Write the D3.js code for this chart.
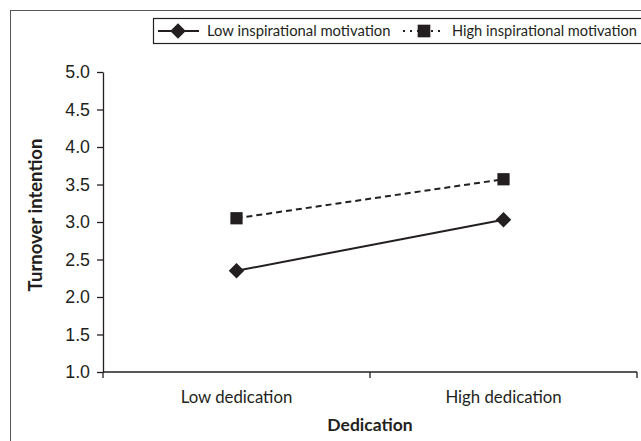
<!DOCTYPE html>
<html>
<head>
<meta charset="utf-8">
<script src="https://cdn.jsdelivr.net/npm/d3@7"></script>
<style>
  html, body { margin: 0; padding: 0; background: #fff; }
  svg { display: block; font-family: Lato, "Open Sans", sans-serif; }
</style>
</head>
<body>
<svg id="chart" width="641" height="441"></svg>
<script>
const categories = ["Low dedication", "High dedication"];
const seriesNames = ["Low inspirational motivation", "High inspirational motivation"];
const lowMotivation = [2.35, 3.03];
const highMotivation = [3.05, 3.57];
const yTicks = [1.0, 1.5, 2.0, 2.5, 3.0, 3.5, 4.0, 4.5, 5.0];
const yTitle = "Turnover intention";
const xTitle = "Dedication";

(function () {
const ink = "#231f20";
const svg = d3.select("#chart");

// outer frame
svg.append("rect")
  .attr("x", 10.5).attr("y", 10.5)
  .attr("width", 640).attr("height", 440)
  .attr("fill", "none").attr("stroke", "#555").attr("stroke-width", 1);

const pLeft = 103, pRight = 637, pTop = 72, pBottom = 372;

const x = d3.scaleBand().domain(categories).range([pLeft, pRight]).padding(0);
const y = d3.scaleLinear().domain([1, 5]).range([pBottom, pTop]);

// Y axis
const yAxis = svg.append("g")
  .attr("transform", `translate(${pLeft},0)`)
  .call(d3.axisLeft(y).tickValues(yTicks).tickFormat(d3.format(".1f")).tickSize(6).tickSizeOuter(0));
yAxis.select(".domain").attr("stroke", ink).attr("stroke-width", 1.3);
yAxis.selectAll(".tick line").attr("stroke", ink).attr("stroke-width", 1.3);
yAxis.selectAll(".tick text").attr("font-size", 17.8).attr("fill", ink).attr("x", -13);

// X axis with ticks at band boundaries
svg.append("line")
  .attr("x1", pLeft).attr("x2", pRight)
  .attr("y1", pBottom).attr("y2", pBottom)
  .attr("stroke", ink).attr("stroke-width", 1.3);
const boundaries = categories.map(c => x(c)).concat([x(categories[categories.length - 1]) + x.bandwidth()]);
svg.selectAll(".xtick").data(boundaries).enter().append("line")
  .attr("x1", d => d).attr("x2", d => d)
  .attr("y1", pBottom).attr("y2", pBottom + 6)
  .attr("stroke", ink).attr("stroke-width", 1.3);
svg.selectAll(".xlabel").data(categories).enter().append("text")
  .attr("x", d => x(d) + x.bandwidth() / 2)
  .attr("y", 403)
  .attr("text-anchor", "middle")
  .attr("font-size", 16.8)
  .attr("fill", ink)
  .text(d => d);

// Axis titles
svg.append("text")
  .attr("x", 370).attr("y", 431)
  .attr("text-anchor", "middle")
  .attr("font-size", 17.5).attr("font-weight", "bold").attr("fill", ink)
  .text(xTitle);
svg.append("text")
  .attr("transform", `translate(41.5,${(pTop + pBottom) / 2 - 7}) rotate(-90)`)
  .attr("text-anchor", "middle")
  .attr("font-size", 18.5).attr("font-weight", "bold").attr("fill", ink)
  .text(yTitle);

const cx = c => x(c) + x.bandwidth() / 2;
const line = d3.line().x(d => cx(d.cat)).y(d => y(d.v));
const lowData = categories.map((c, i) => ({ cat: c, v: lowMotivation[i] }));
const highData = categories.map((c, i) => ({ cat: c, v: highMotivation[i] }));

svg.append("path").datum(highData).attr("d", line)
  .attr("fill", "none").attr("stroke", ink).attr("stroke-width", 2)
  .attr("stroke-dasharray", "6,4");
svg.append("path").datum(lowData).attr("d", line)
  .attr("fill", "none").attr("stroke", ink).attr("stroke-width", 2);

const square = d3.symbol().type(d3.symbolSquare).size(150);

svg.selectAll(".sq").data(highData).enter().append("path")
  .attr("d", square)
  .attr("transform", d => `translate(${cx(d.cat)},${y(d.v)})`)
  .attr("fill", ink);
svg.selectAll(".dm").data(lowData).enter().append("path")
  .attr("d", d3.symbol().type(d3.symbolSquare).size(120))
  .attr("transform", d => `translate(${cx(d.cat)},${y(d.v)}) rotate(45)`)
  .attr("fill", ink);

// Legend
const leg = svg.append("g");
leg.append("rect")
  .attr("x", 153.5).attr("y", 18.5).attr("width", 495).attr("height", 25)
  .attr("fill", "#fff").attr("stroke", ink).attr("stroke-width", 1.2);
const ly = 31;
leg.append("line").attr("x1", 158).attr("x2", 199).attr("y1", ly).attr("y2", ly)
  .attr("stroke", ink).attr("stroke-width", 2);
leg.append("path").attr("d", d3.symbol().type(d3.symbolSquare).size(120))
  .attr("transform", `translate(178,${ly}) rotate(45)`).attr("fill", ink);
leg.append("text").attr("x", 207).attr("y", ly).attr("dy", "0.35em")
  .attr("font-size", 14.8).attr("fill", ink).text(seriesNames[0]);
leg.append("line").attr("x1", 403).attr("x2", 445).attr("y1", ly).attr("y2", ly)
  .attr("stroke", ink).attr("stroke-width", 2).attr("stroke-dasharray", "2,5");
leg.append("path").attr("d", d3.symbol().type(d3.symbolSquare).size(160))
  .attr("transform", `translate(424,${ly})`).attr("fill", ink);
leg.append("text").attr("x", 452).attr("y", ly).attr("dy", "0.35em")
  .attr("font-size", 14.6).attr("fill", ink).text(seriesNames[1]);
})();
</script>
</body>
</html>
